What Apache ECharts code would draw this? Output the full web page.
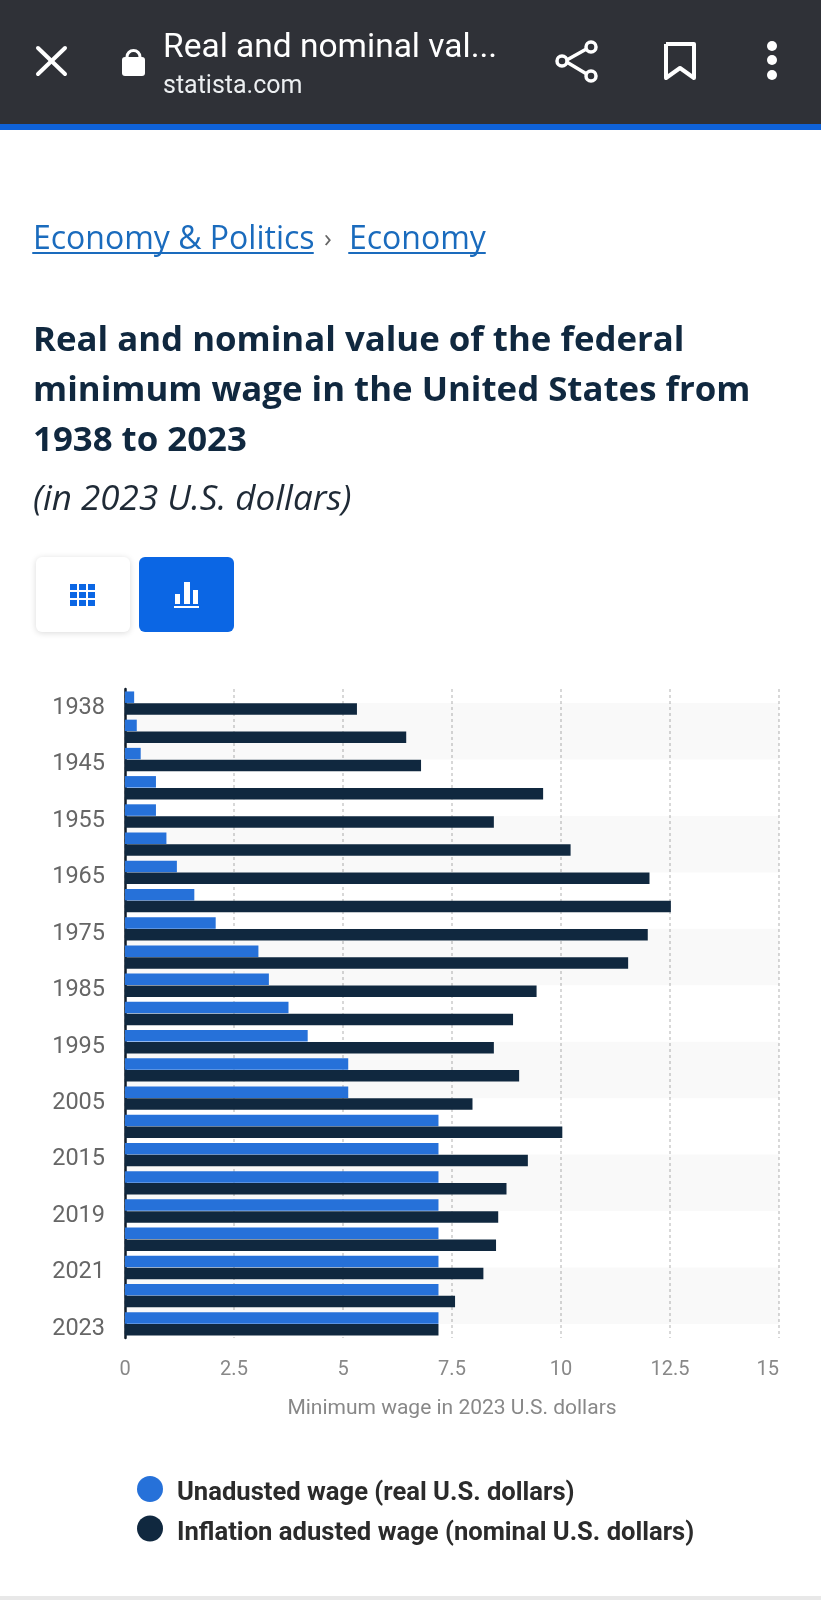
<!DOCTYPE html>
<html>
<head>
<meta charset="utf-8">
<title>Real and nominal value of the federal minimum wage</title>
<script src="https://cdn.jsdelivr.net/npm/echarts@6/dist/echarts.min.js"></script>
<style>
    html, body { margin: 0; padding: 0; background: #fff; }
    #chart { width: 821px; height: 1600px; }
</style>
</head>
<body>
<div id="chart"></div>
<script>
'use strict'
const years = ['1938', '1940', '1945', '1950', '1955', '1960', '1965', '1970', '1975', '1980', '1985', '1990',
    '1995', '2000', '2005', '2010', '2015', '2017', '2019', '2020', '2021', '2022', '2023']
const unadjusted = [0.21, 0.27, 0.36, 0.71, 0.71, 0.95, 1.19, 1.59, 2.08, 3.06, 3.30, 3.75,
    4.19, 5.12, 5.12, 7.19, 7.19, 7.19, 7.19, 7.19, 7.19, 7.19, 7.19]
const adjusted = [5.32, 6.45, 6.79, 9.59, 8.46, 10.22, 12.03, 12.52, 11.99, 11.54, 9.44, 8.90,
    8.46, 9.04, 7.97, 10.03, 9.24, 8.75, 8.56, 8.51, 8.22, 7.57, 7.19]
const bands = [['1938', '1945'], ['1955', '1965'], ['1975', '1985'], ['1995', '2005'], ['2015', '2019'], ['2021', '2023']]
const seriesNames = ['Unadusted wage (real U.S. dollars)', 'Inflation adusted wage (nominal U.S. dollars)']
const xTitle = 'Minimum wage in 2023 U.S. dollars'

const BLUE = '#2671d9'
const NAVY = '#10283f'
const LINK = '#1a6bbd'

function text(x, y, str, font, fill) {
    return { type: 'text', x: x, y: y, style: { text: str, font: font, fill: fill, verticalAlign: 'middle' } }
}
function rect(x, y, width, height, fill, r) {
    return { type: 'rect', shape: { x: x, y: y, width: width, height: height, r: r || 0 }, style: { fill: fill } }
}
function line(x1, y1, x2, y2, stroke, lineWidth) {
    return { type: 'line', shape: { x1: x1, y1: y1, x2: x2, y2: y2 }, style: { stroke: stroke, lineWidth: lineWidth, lineCap: 'round' } }
}
function circle(cx, cy, r, style) {
    return { type: 'circle', shape: { cx: cx, cy: cy, r: r }, style: style }
}

// browser bar, breadcrumb and view switch around the chart
const pageParts = [
    rect(0, 0, 821, 125, '#2f3137'),
    rect(0, 124, 821, 6, '#0f62d8'),
    line(38, 48, 65, 74, '#fff', 4),
    line(65, 48, 38, 74, '#fff', 4),
    rect(122, 57, 23, 19, '#fff', 3),
    { type: 'arc', shape: { cx: 133.5, cy: 57, r: 6.5, startAngle: Math.PI, endAngle: 0 }, style: { stroke: '#fff', lineWidth: 3, fill: 'none' } },
    text(163, 49, 'Real and nominal val...', '33.5px Roboto', '#fff'),
    text(163, 87, 'statista.com', '25px Roboto', '#eceff1'),
    line(565, 61, 590, 47, '#fff', 3.5),
    line(565, 61, 590, 76, '#fff', 3.5),
    circle(562, 61, 5, { fill: '#2f3137', stroke: '#fff', lineWidth: 3.5 }),
    circle(591, 47, 5, { fill: '#2f3137', stroke: '#fff', lineWidth: 3.5 }),
    circle(591, 76, 5, { fill: '#2f3137', stroke: '#fff', lineWidth: 3.5 }),
    { type: 'polyline', shape: { points: [[666, 44], [694, 44], [694, 78], [680, 68], [666, 78], [666, 44]] }, style: { stroke: '#fff', lineWidth: 4, fill: 'none', lineJoin: 'round' } },
    circle(772, 46, 5, { fill: '#fff' }),
    circle(772, 60, 5, { fill: '#fff' }),
    circle(772, 75, 5, { fill: '#fff' }),

    text(33, 240, 'Economy & Politics', '32px "Open Sans"', LINK),
    line(33, 253, 313, 253, LINK, 2),
    text(324, 240, '›', '26px "Open Sans"', '#666'),
    text(349, 240, 'Economy', '32px "Open Sans"', LINK),
    line(349, 253, 485, 253, LINK, 2),

    {
        type: 'rect', shape: { x: 36, y: 557, width: 94, height: 75, r: 6 },
        style: { fill: '#fff', shadowBlur: 6, shadowColor: 'rgba(0,0,0,.15)', shadowOffsetY: 1 }
    },
    rect(139, 557, 95, 75, '#0b66e4', 6),
    rect(70, 584, 7, 6, '#0b66e4'), rect(79, 584, 7, 6, '#0b66e4'), rect(88, 584, 7, 6, '#0b66e4'),
    rect(70, 592, 7, 6, '#0b66e4'), rect(79, 592, 7, 6, '#0b66e4'), rect(88, 592, 7, 6, '#0b66e4'),
    rect(70, 600, 7, 6, '#0b66e4'), rect(79, 600, 7, 6, '#0b66e4'), rect(88, 600, 7, 6, '#0b66e4'),
    rect(175, 594, 5, 10, '#fff'), rect(184, 582, 6, 22, '#fff'), rect(193, 590, 5, 14, '#fff'),
    rect(174, 606, 25, 2, '#fff'),

    rect(0, 1596, 821, 4, '#e8e8e8')
]

const option = {
    animation: false,
    backgroundColor: '#fff',
    title: {
        text: 'Real and nominal value of the federal\nminimum wage in the United States from\n1938 to 2023',
        subtext: '(in 2023 U.S. dollars)',
        left: 33,
        top: 316,
        padding: 0,
        itemGap: 12,
        textStyle: { fontFamily: 'Open Sans', fontWeight: 700, fontSize: 34.8, lineHeight: 50, color: '#10283f' },
        subtextStyle: { fontFamily: 'Open Sans', fontStyle: 'italic', fontSize: 35, lineHeight: 44, color: '#1f2a36' }
    },
    grid: { left: 125, top: 689, width: 654, height: 649, containLabel: false },
    legend: {
        data: seriesNames,
        orient: 'vertical',
        left: 137,
        top: 1476,
        padding: 0,
        icon: 'circle',
        itemWidth: 26,
        itemHeight: 26,
        itemGap: 8.5,
        selectedMode: false,
        formatter: '{name|{name}}',
        textStyle: {
            rich: { name: { fontFamily: 'Roboto', fontWeight: 700, fontSize: 25.6, color: '#2b2b2b', padding: [10, 0, 0, 9] } }
        }
    },
    xAxis: {
        type: 'value',
        min: 0,
        max: 15,
        interval: 2.5,
        name: xTitle,
        nameLocation: 'middle',
        nameGap: 60,
        nameTextStyle: { fontFamily: 'Roboto', fontSize: 21, color: '#888' },
        axisLine: { show: false },
        axisTick: { show: false },
        axisLabel: { fontFamily: 'Roboto', fontSize: 20, color: '#888', margin: 22, alignMaxLabel: 'right' },
        splitLine: { show: true, lineStyle: { color: '#d8d8d8', width: 2, type: [3, 3] } }
    },
    yAxis: [
        {
            type: 'category',
            data: years,
            inverse: true,
            axisLine: { show: true, lineStyle: { color: '#111d2b', width: 2.5 } },
            axisTick: { show: false },
            axisLabel: {
                interval: 1,
                margin: 20,
                formatter: '{year|{value}}',
                rich: { year: { fontFamily: 'Roboto', fontSize: 23.5, color: '#666', padding: [10, 0, 0, 0] } }
            },
            splitLine: { show: false }
        },
        // hidden index axis: the stripes run from bar centre to bar centre, which a category markArea cannot do
        { type: 'value', show: false, inverse: true, min: -0.5, max: years.length - 0.5, splitLine: { show: false } }
    ],
    series: [
        {
            name: seriesNames[0],
            type: 'bar',
            data: unadjusted,
            barWidth: 11.5,
            barGap: '3%',
            itemStyle: { color: BLUE }
        },
        {
            name: seriesNames[1],
            type: 'bar',
            data: adjusted,
            barWidth: 11.5,
            itemStyle: { color: NAVY }
        },
        {
            type: 'line',
            yAxisIndex: 1,
            data: [],
            silent: true,
            markArea: {
                silent: true,
                itemStyle: { color: 'rgba(0,0,0,0.025)' },
                data: bands.map(b => [{ yAxis: years.indexOf(b[0]) }, { yAxis: years.indexOf(b[1]) }])
            }
        }
    ],
    graphic: { elements: pageParts }
}

const myChart = echarts.init(document.getElementById('chart'))
myChart.setOption(option)
</script>
</body>
</html>
